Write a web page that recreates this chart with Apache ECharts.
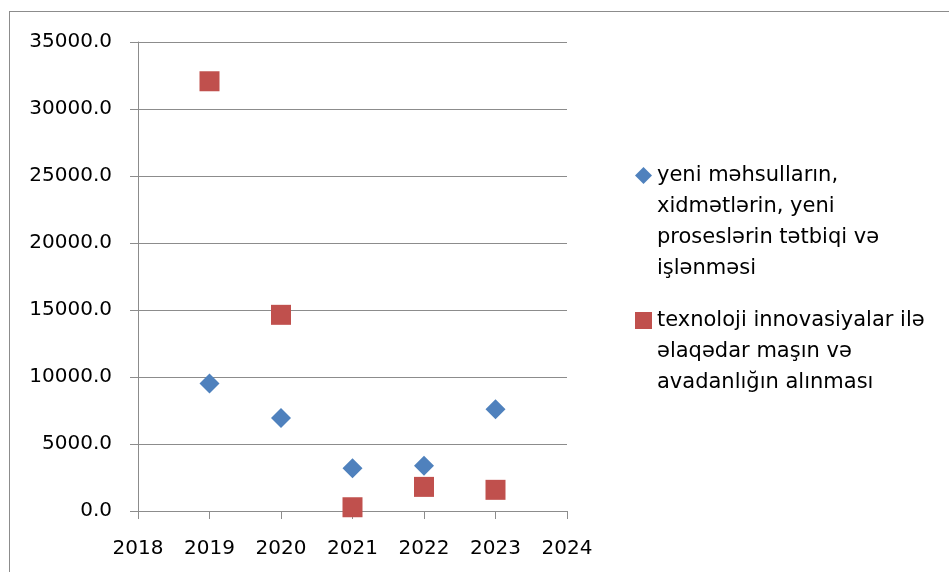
<!DOCTYPE html>
<html>
<head>
<meta charset="utf-8">
<script src="https://cdn.jsdelivr.net/npm/echarts@6/dist/echarts.min.js"></script>
<style>
  html, body { margin: 0; padding: 0; background: #fff; }
  #chart { width: 949px; height: 572px; position: relative; }
  #frame {
    position: absolute; left: 9px; top: 11px; right: 0; bottom: 0;
    border-left: 1px solid #8c8c8c; border-top: 1px solid #8c8c8c;
    pointer-events: none;
  }
</style>
</head>
<body>
<div style="position:relative;width:949px;height:572px;">
  <div id="chart"></div>
  <div id="frame"></div>
</div>
<script>
// Years on the horizontal axis
const years = [2019, 2020, 2021, 2022, 2023];
// Spending on new products, services and processes
const newProducts = [9520, 6940, 3190, 3380, 7590];
// Spending on machinery and equipment for technological innovation
const machinery = [32070, 14640, 280, 1800, 1580];

const seriesNames = [
  'yeni məhsulların, xidmətlərin, yeni proseslərin tətbiqi və işlənməsi',
  'texnoloji innovasiyalar ilə əlaqədar maşın və avadanlığın alınması'
];
const legendLines = [
  ['yeni məhsulların,', 'xidmətlərin, yeni', 'proseslərin tətbiqi və', 'işlənməsi'],
  ['texnoloji innovasiyalar ilə', 'əlaqədar maşın və', 'avadanlığın alınması']
];

const FONT = 'DejaVu Sans';
const LINE_H = 31;
const axisGray = '#8c8c8c';

function pairs(vals) { return years.map((y, i) => [y, vals[i]]); }

// Legend entry whose marker sits beside the first line of a wrapped label:
// blank lines are prepended so the label's first line lands on the marker.
function legendFor(idx, top, icon) {
  const lines = legendLines[idx];
  const pad = new Array(lines.length - 1).fill('');
  return {
    data: [{ name: seriesNames[idx], icon: icon }],
    left: 635,
    top: top,
    orient: 'vertical',
    padding: 0,
    itemWidth: 17,
    itemHeight: 17,
    selectedMode: false,
    formatter: () => pad.concat(lines).join('\n'),
    textStyle: {
      fontFamily: FONT,
      fontSize: 21,
      color: '#000',
      lineHeight: LINE_H
    }
  };
}

const chart = echarts.init(document.getElementById('chart'));
chart.setOption({
  animation: false,
  backgroundColor: '#fff',
  grid: { left: 138, right: 382, top: 42, bottom: 61 },
  xAxis: {
    type: 'value',
    min: 2018, max: 2024, interval: 1,
    splitLine: { show: false },
    axisLine: { lineStyle: { color: axisGray, width: 1 } },
    axisTick: { length: 8, lineStyle: { color: axisGray } },
    axisLabel: {
      margin: 28, color: '#000', fontFamily: FONT, fontSize: 20,
      formatter: v => String(v)
    }
  },
  yAxis: {
    type: 'value',
    min: 0, max: 35000, interval: 5000,
    splitLine: { show: true, lineStyle: { color: axisGray, width: 1 } },
    axisLine: { show: true, lineStyle: { color: axisGray, width: 1 } },
    axisTick: { show: true, length: 8, lineStyle: { color: axisGray } },
    axisLabel: {
      margin: 26, color: '#000', fontFamily: FONT, fontSize: 20,
      formatter: v => v.toFixed(1)
    }
  },
  legend: [
    legendFor(0, 67, 'diamond'),
    legendFor(1, 243, 'rect')
  ],
  series: [
    {
      name: seriesNames[0],
      type: 'scatter',
      symbol: 'diamond',
      symbolSize: [20, 20],
      itemStyle: { color: '#4F81BD', opacity: 1 },
      data: pairs(newProducts)
    },
    {
      name: seriesNames[1],
      type: 'scatter',
      symbol: 'rect',
      symbolSize: [20, 20],
      itemStyle: { color: '#C0504D', opacity: 1 },
      data: pairs(machinery)
    }
  ]
});
</script>
</body>
</html>
